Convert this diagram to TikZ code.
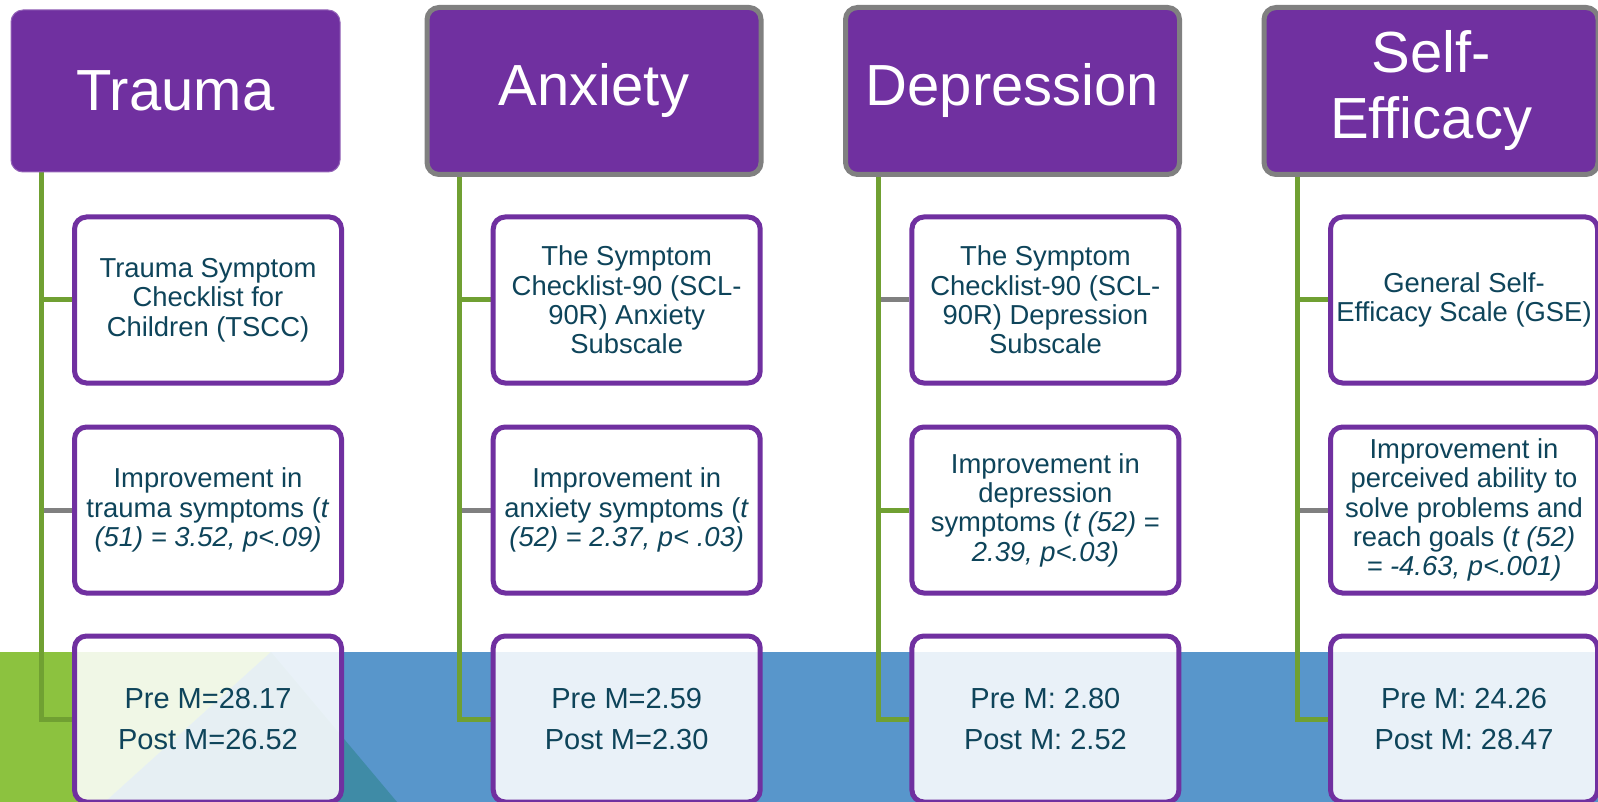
\documentclass[tikz,border=0pt]{standalone}
\usepackage{fontspec}
\setmainfont{Liberation Sans}
\definecolor{hpurple}{RGB}{112,48,160}
\definecolor{hgrey}{RGB}{128,128,128}
\definecolor{lgreen}{RGB}{112,160,50}
\definecolor{lgrey}{RGB}{128,128,128}
\definecolor{bgreen}{RGB}{140,194,63}
\definecolor{bblue}{RGB}{88,150,203}
\definecolor{bteal}{RGB}{63,139,166}
\definecolor{txt}{RGB}{14,68,90}
\pgfdeclarelayer{bandlayer}
\pgfdeclarelayer{connlayer}
\pgfsetlayers{bandlayer,connlayer,main}
\tikzset{
  hdr/.style={rectangle, rounded corners=12pt, fill=hpurple, text=white,
    draw=hgrey, line width=5pt, minimum width=334pt, minimum height=167pt,
    inner sep=0pt, align=center, font=\fontsize{58}{66}\selectfont},
  hdrplain/.style={hdr, draw=hpurple!75!white, line width=1pt,
    minimum width=329pt, minimum height=162pt},
  cbox/.style={rectangle, rounded corners=12pt, draw=hpurple, line width=5pt,
    fill=white, text=txt, minimum width=267pt, minimum height=166pt,
    inner sep=0pt, align=center, font=\fontsize{27.4}{29.3}\selectfont},
  mbox/.style={cbox, fill opacity=0.87, text opacity=1,
    font=\fontsize{29}{41}\selectfont},
  trunk/.style={draw=lgreen, line width=5pt},
  gbranch/.style={draw=lgrey, line width=5pt},
}
\begin{document}
\begin{tikzpicture}[x=1pt,y=-1pt]
\useasboundingbox (0,0) rectangle (1598,802);

% coloured band along the bottom
\begin{pgfonlayer}{bandlayer}
\fill[white] (0,0) rectangle (1598,802);
\fill[bblue] (0,652) rectangle (1598,802);
\fill[bgreen] (0,652) -- (271,652) -- (105,802) -- (0,802) -- cycle;
\fill[bteal] (271,652) -- (397,802) -- (105,802) -- cycle;
\end{pgfonlayer}

% trunk positions
\coordinate (t1) at (41,0);
\coordinate (t2) at (459.7,0);
\coordinate (t3) at (878.4,0);
\coordinate (t4) at (1297,0);

% headers
\node[hdrplain] (h1) at (175.5,91) {Trauma};
\node[hdr] (h2) at (594,91) {Anxiety};
\node[hdr] (h3) at (1012.5,91) {Depression};
\node[hdr] (h4) at (1431,91) {Self-\\Efficacy};

% child boxes
\node[cbox] (b11) at (208,300) {Trauma Symptom\\Checklist for\\Children (TSCC)};
\node[cbox] (b12) at (208,510) {Improvement in\\trauma symptoms (\textit{t}\\\textit{(51) = 3.52, p<.09)}};
\node[mbox] (b13) at (208,719) {Pre M=28.17\\Post M=26.52};

\node[cbox] (b21) at (626.7,300) {The Symptom\\Checklist-90 (SCL-\\90R) Anxiety\\Subscale};
\node[cbox] (b22) at (626.7,510) {Improvement in\\anxiety symptoms (\textit{t}\\\textit{(52) = 2.37, p< .03)}};
\node[mbox] (b23) at (626.7,719) {Pre M=2.59\\Post M=2.30};

\node[cbox] (b31) at (1045.4,300) {The Symptom\\Checklist-90 (SCL-\\90R) Depression\\Subscale};
\node[cbox] (b32) at (1045.4,510) {Improvement in\\depression\\symptoms (\textit{t (52)} =\\\textit{2.39, p<.03)}};
\node[mbox] (b33) at (1045.4,719) {Pre M: 2.80\\Post M: 2.52};

\node[cbox] (b41) at (1464,300) {General Self-\\Efficacy Scale (GSE)};
\node[cbox] (b42) at (1464,510) {Improvement in\\perceived ability to\\solve problems and\\reach goals (\textit{t (52)}\\\textit{= -4.63, p<.001)}};
\node[mbox] (b43) at (1464,719) {Pre M: 24.26\\Post M: 28.47};

% connectors, beneath the boxes: grey stubs first, green trunks over them
\begin{pgfonlayer}{connlayer}
\draw[gbranch] (t1 |- b12.west) -- (b12.west);
\draw[gbranch] (t2 |- b22.west) -- (b22.west);
\draw[gbranch] (t3 |- b31.west) -- (b31.west);
\draw[gbranch] (t4 |- b42.west) -- (b42.west);

\draw[trunk] (h1.south -| t1) |- (b13.west);
\draw[trunk] (t1 |- b11.west) -- (b11.west);

\draw[trunk] (h2.south -| t2) |- (b23.west);
\draw[trunk] (t2 |- b21.west) -- (b21.west);

\draw[trunk] (h3.south -| t3) |- (b33.west);
\draw[trunk] (t3 |- b32.west) -- (b32.west);

\draw[trunk] (h4.south -| t4) |- (b43.west);
\draw[trunk] (t4 |- b41.west) -- (b41.west);
\end{pgfonlayer}
\end{tikzpicture}
\end{document}
